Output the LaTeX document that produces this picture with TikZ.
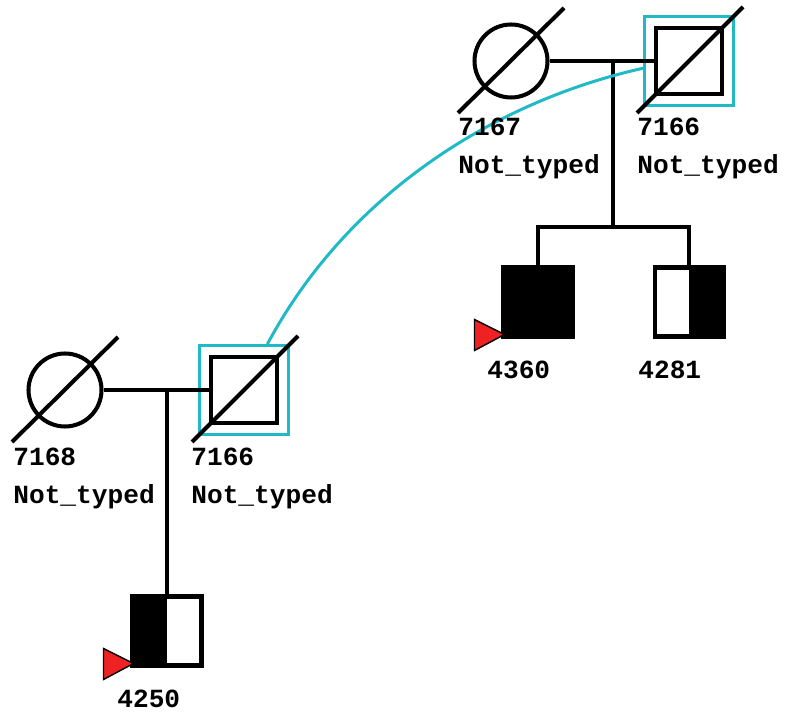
\documentclass[tikz,border=0pt]{standalone}
\usepackage{fontspec}
\newfontfamily\pedfont{Liberation Mono}
\usetikzlibrary{calc}
\definecolor{selcyan}{RGB}{32,186,198}
\definecolor{probred}{RGB}{238,34,34}
\tikzset{
  person/.style={draw, line width=2.3pt, inner sep=0pt, fill=white},
  female/.style={person, circle, minimum size=1.46cm},
  male/.style={person, rectangle, minimum size=1.32cm},
  kid/.style={person, rectangle, minimum size=1.38cm},
  selbox/.style={draw=selcyan, line width=1.7pt, rectangle, minimum size=1.78cm, inner sep=0pt},
  selline/.style={draw=selcyan, line width=1.7pt},
  line/.style={line width=2.3pt},
  slash/.style={line width=2.3pt},
  proband/.style={fill=probred, draw=black, line width=0.8pt, line join=miter},
  lab/.style={anchor=base west, inner sep=0pt, font=\pedfont\bfseries\fontsize{14.9}{17}\selectfont}
}
\begin{document}
\begin{tikzpicture}[x=0.02cm, y=-0.02cm]
  \useasboundingbox (0,0) rectangle (786,715);

  % oberes Paar
  \node[female] (f7167) at (511,61) {};
  \node[selbox] (s7166a) at (689,61) {};
  \node[male] (m7166a) at (689,61) {};
  \draw[slash] ($(f7167)+(-53,52)$) -- ($(f7167)+(53,-53)$);
  \draw[slash] ($(m7166a)+(-52,52)$) -- ($(m7166a)+(54,-54)$);
  \draw[line] (f7167) -- (m7166a);

  % Kinder des oberen Paares
  \coordinate (d1) at (613,61);
  \coordinate (sib1) at (613,227);
  \node[kid, fill=black] (c4360) at (538,302) {};
  \node[kid] (c4281) at (689,302) {};
  \fill (c4281.north) rectangle (c4281.south east);
  \draw[line] (d1) -- (sib1);
  \draw[line] (c4360) |- (sib1) -| (c4281);
  \draw[proband] (c4360.south west) ++(3,-4) -- ++(-30,-15) -- ++(0,31) -- cycle;

  % unteres Paar
  \node[female] (f7168) at (65,390) {};
  \node[selbox] (s7166b) at (244,390) {};
  \node[male] (m7166b) at (244,390) {};
  \draw[slash] ($(f7168)+(-53,52)$) -- ($(f7168)+(53,-53)$);
  \draw[slash] ($(m7166b)+(-52,52)$) -- ($(m7166b)+(54,-54)$);
  \draw[line] (f7168) -- (m7166b);

  % Kind des unteren Paares
  \coordinate (d2) at (167,390);
  \node[kid] (k4250) at (167,631) {};
  \fill (k4250.north west) rectangle (k4250.south);
  \draw[line] (d2) -- (k4250);
  \draw[proband] (k4250.south west) ++(3,-4) -- ++(-30,-15) -- ++(0,31) -- cycle;

  % Verbindung der Duplikate
  \draw[selline] (s7166b.63) .. controls (350,190) and (500,100) .. (s7166a.189);

  % Beschriftungen
  \node[lab] (l7167) at ($(f7167)+(-53,75)$) {7167};
  \node[lab] (n7167) at ($(f7167)+(-53,113)$) {Not\_typed};
  \node[lab] (l7166a) at ($(m7166a)+(-52,75)$) {7166};
  \node[lab] (n7166a) at ($(m7166a)+(-52,113)$) {Not\_typed};
  \node[lab] (l4360) at ($(c4360)+(-51,76)$) {4360};
  \node[lab] (l4281) at ($(c4281)+(-51,76)$) {4281};
  \node[lab] (l7168) at ($(f7168)+(-52,75)$) {7168};
  \node[lab] (n7168) at ($(f7168)+(-52,113)$) {Not\_typed};
  \node[lab] (l7166b) at ($(m7166b)+(-53,75)$) {7166};
  \node[lab] (n7166b) at ($(m7166b)+(-53,113)$) {Not\_typed};
  \node[lab] (l4250) at ($(k4250)+(-50,76)$) {4250};
\end{tikzpicture}
\end{document}
